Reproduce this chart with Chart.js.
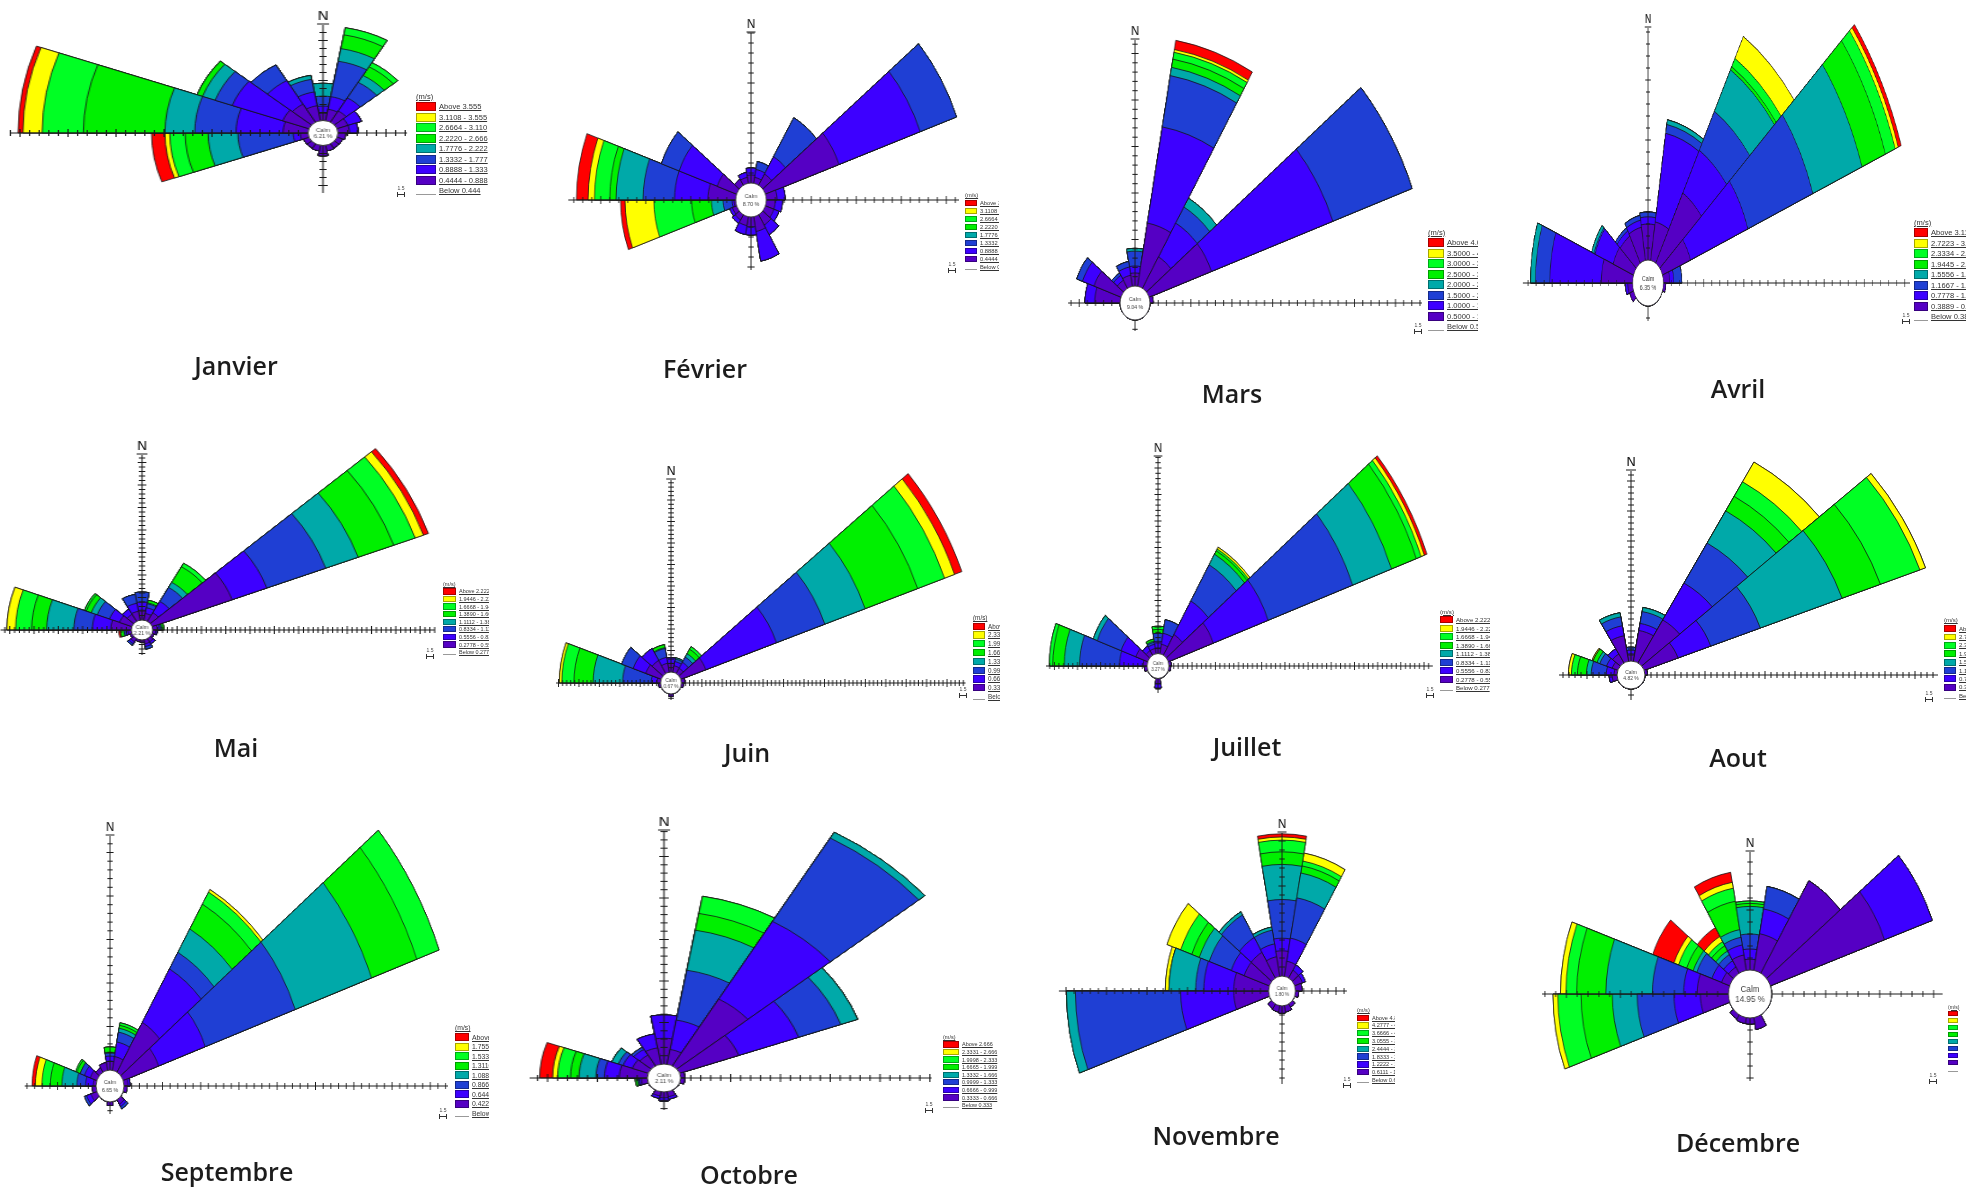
<!DOCTYPE html>
<html lang="fr">
<head>
<meta charset="UTF-8">
<title>Roses des vents mensuelles</title>
<script src="https://cdn.jsdelivr.net/npm/chart.js"></script>
<style>
  body { margin: 0; background: #fff; width: 1975px; height: 1191px; position: relative; overflow: hidden; }
  canvas.rose { position: absolute; }
  .month { position: absolute; transform: translate(-50%, -50%); font: 600 25px "Open Sans", sans-serif; color: #1c1c1c; white-space: nowrap; }
  .legend { position: absolute; overflow: hidden; font-family: "Liberation Sans", sans-serif; color: #333; }
  .legend .row { display: flex; align-items: center; white-space: nowrap; }
  .legend .sw { flex: none; margin-right: 3px; box-sizing: border-box; border: 0.5px solid rgba(0,0,0,0.35); }
  .legend .txt { text-decoration: underline; }
  .scalemark { position: absolute; width: 10px; height: 12px; font: 5px "Liberation Sans", sans-serif; color: #444; text-align: center; }
  .scalemark .br { position: absolute; left: 1px; right: 1px; bottom: 0; height: 5px; border-left: 1px solid #333; border-right: 1px solid #333; }
  .scalemark .br::after { content: ""; position: absolute; left: 0; right: 0; top: 2px; border-top: 1px solid #333; }
</style>
</head>
<body>
<script>
// 18 sectors of 20 degrees, centred on 0, 20, ... 340
const directions = ['0°', '20°', '40°', '60°', '80°', '100°', '120°', '140°', '160°',
                    '180°', '200°', '220°', '240°', '260°', '280°', '300°', '320°', '340°'];
const speedClasses = ['c1', 'c2', 'c3', 'c4', 'c5', 'c6', 'c7', 'c8'];
const classColors = ['#5500c4', '#3d00ff', '#1f3fd4', '#00a9a9', '#00f000', '#00ff24', '#ffff00', '#ff0000'];
const months = ['Janvier', 'Février', 'Mars', 'Avril', 'Mai', 'Juin', 'Juillet', 'Aout',
                'Septembre', 'Octobre', 'Novembre', 'Décembre'];

// frequency per direction, split by speed class (inner -> outer), in axis tick units
const janvier = [
  [0.9, 0.9, 1.25, 1.6], [1.45, 1.6, 4.5, 1.6, 1.75, 0.9], [1.6, 1.9, 2.25, 1.0, 1.25, 0.6],
  [1.2, 1.5], [1.2, 0.9], [0.8], [0.6], [0.6], [0.7], [1.3], [0.7], [0.6], [0.6],
  [0.8, 0.75, 5.75, 3.1, 2.4, 1.6, 0.5, 1.4], [2.6, 4.9, 4.3, 3.1, 8.5, 4.3, 2.0, 0.5],
  [2.9, 5.6, 1.9, 1.4, 0.6], [2.6, 3.4, 2.25], [1.9, 1.75, 1.6, 0.5]
];
const fevrier = [
  [0.8, 0.7], [0.6, 0.8, 0.8], [1.3, 2.0, 4.5], [8.7, 9.6, 4.3], [1.2, 0.9], [1.0, 0.8],
  [1.0, 0.6], [1.2, 1.1], [1.5, 3.0], [1.0, 0.8], [0.9, 0.9], [0.6, 0.4], [0.5, 0.3],
  [0.2, 0.2, 1.0, 1.3, 2.2, 4.2, 3.2, 0.5], [3.1, 3.7, 3.5, 3.0, 0.7, 1.7, 0.7, 1.3],
  [2.3, 4.5, 2.1], [0.7], [0.6, 0.5]
];
const mars = [
  [1.4, 0.75, 1.6, 0.3], [6.9, 10.5, 5.6, 0.9, 0.9, 0.75, 0.3, 1.0], [3.9, 4.2, 2.0, 1.1],
  [8.1, 15.8, 10.3], [0.4], [], [], [], [], [], [], [], [], [],
  [3.1, 1.2], [3.5, 1.5, 0.75], [1.0, 0.6, 0.3], [1.2, 0.9, 0.6]
];
const avril = [
  [3.0, 0.6, 0.4], [3.25, 7.5, 0.75, 0.4], [6.75, 4.1, 3.75, 4.0, 0.3, 0.8, 2.1],
  [3.7, 7.6, 8.6, 6.5, 3.1, 1.3, 0.4, 0.4], [0.8, 0.5, 1.0], [0.3], [], [], [], [], [], [],
  [0.5], [0.6, 0.3], [3.9, 6.4, 1.8, 0.6], [2.7, 2.4, 0.15, 0.3], [2.6, 0.5, 0.3], [2.8, 0.6, 0.4]
];
const mai = [
  [2.2, 1.8, 2.2], [1.5, 1.3, 0.9, 0.2, 0.6], [2.2, 2.9, 3.6, 1.3, 4.0, 0.9],
  [17.5, 7.6, 12.9, 7.1, 7.8, 4.7, 1.8, 1.1], [0.9, 0.5, 0.3, 0.2, 0.4], [0.6, 0.3], [0.4],
  [0.8, 0.5], [0.9, 0.6, 0.6], [0.5], [0.4], [0.8, 0.5, 0.4], [0.4],
  [0.7, 0.4, 0.4, 0, 0.7, 0, 0, 0.4], [4.2, 3.8, 3.8, 5.6, 3.1, 3.3, 1.8],
  [2.7, 2.2, 2.7, 1.3, 1.1, 0.4], [1.8, 1.3], [2.0, 1.8, 2.0]
];
const juin = [
  [2.0, 1.3], [1.5, 1.0, 0.6, 0.3], [1.4, 1.6, 1.4, 0.9, 1.2, 0.7],
  [6.5, 18.4, 12.6, 10.5, 13.7, 7.0, 2.6, 1.9], [0.8], [0.5], [], [], [], [0.6], [], [], [],
  [0.5], [0.9, 1.4, 7.0, 7.2, 4.7, 3.0, 0.6], [4.0, 3.3, 3.0], [3.5, 3.2], [2.1, 1.4, 2.1, 0.2, 0.7]
];
const juillet = [
  [1.0, 1.3, 1.5, 0, 0.75, 0.6], [1.8, 2.1, 2.6], [4.5, 7.3, 7.9, 2.3, 0.75, 0.4, 0.4],
  [10.3, 12.6, 19.4, 8.9, 5.7, 1.1, 0.75, 0.6], [0.5], [0.4], [], [], [], [1.0, 0.8], [], [], [],
  [0.6], [0.85, 5.1, 8.6, 3.3, 2.5, 0.75], [2.7, 3.4, 5.5, 0.9], [1.0, 1.0], [1.0, 0.8, 0.4, 0.2, 0.4]
];
const aout = [
  [1.2, 0.6, 0.5], [5.2, 1.2, 2.0, 0.7], [8.25, 7.1, 7.7, 6.2, 2.8, 2.8, 3.8],
  [6.0, 5.8, 8.8, 14.5, 6.8, 7.0, 1.0], [0.4], [], [], [], [], [], [], [], [],
  [0.8, 0.5], [0.5, 1.3, 2.5, 0.8, 1.5, 1.0, 0.5], [1.0, 1.0, 1.2, 0.5, 0.7, 0, 0.2],
  [1.7, 1.0], [4.3, 1.7, 1.5, 0.7]
];
const septembre = [
  [1.0, 0.6, 0.35, 0.1, 0.6], [1.6, 1.7, 1.15, 0.45, 0.35, 0.3], [6.6, 7.1, 2.2, 3.1, 3.3, 1.6, 0.35],
  [4.9, 6.5, 12.5, 10.6, 6.3, 3.1], [0.5, 0.3], [0.4], [], [0.6, 0.3, 0.3], [], [0.4], [], [],
  [0.8, 0.6, 0.3], [0.5], [0.35, 1.0, 1.15, 1.95, 1.5, 1.1, 0.85, 0.45],
  [0.9, 0.8, 0.6, 0, 0.45, 0.2], [0.6], [0.9]
];
const octobre = [
  [3.1, 2.8], [1.8, 3.6, 6.1, 4.9, 2.05, 2.1], [9.3, 10.8, 11.6, 0.8], [6.3, 6.4, 4.5, 1.8],
  [0.4], [0.4], [], [], [0.6, 0.3], [0.7, 0.4], [0.5, 0.3], [], [],
  [0.6, 0.2, 0.1, 0.1, 0.2], [2.8, 1.5, 0.85, 1.7, 0.85, 1.3, 0.5, 1.3],
  [1.7, 1.0, 0.5, 0.7], [1.5, 0.8, 0.3], [2.0, 1.7]
];
const novembre = [
  [2.8, 1.4, 4.3, 3.9, 1.4, 1.3, 0.35, 0.35], [1.7, 2.6, 4.55, 2.8, 0.8, 0.55, 0.9], [1.0, 0.7],
  [1.0, 0.4], [0.8], [0.4], [], [0.4], [0.7], [0.8], [0.7], [0.6], [],
  [4.3, 6.55, 13.0, 1.1], [4.3, 3.7, 1.0, 3.3, 0, 0, 0.45], [3.3, 1.7, 2.9, 1.3, 1.0, 1.45, 1.8],
  [3.3, 1.9, 2.9, 0.4], [2.2, 1.45, 1.55, 0.35]
];
const decembre = [
  [0.9, 0.85, 1.25, 2.3, 0.25, 0.2], [3.1, 2.1, 1.9], [8.9], [11.25, 4.7], [], [], [], [],
  [1.0], [0.5], [0.5], [0.4], [],
  [2.6, 2.45, 3.4, 2.3, 2.9, 2.15, 0.45], [2.9, 1.25, 2.9, 4.3, 2.7, 1.0, 0.5],
  [0.8, 0.95, 1.5, 0.35, 0.65, 0.8, 0.45, 2.1], [0.6, 0.6, 0.6, 0.35, 0.5, 0.4, 0.5, 0.85],
  [1.3, 0.85, 0.65, 0.65, 2.4, 1.1, 0.5, 0.85]
];

const calmPercent = ['6.21', '8.70', '9.04', '6.35', '2.21', '0.67', '3.27', '4.82', '6.65', '2.11', '1.80', '14.95'];
const speedFloor = [0.4444, 0.4444, 0.5, 0.3889, 0.2778, 0.3333, 0.2778, 0.3889, 0.4222, 0.3333, 0.6111, 0.5556];
const speedStep = [0.4444, 0.4444, 0.5, 0.3889, 0.2778, 0.3333, 0.2778, 0.3889, 0.2222, 0.3333, 0.6111, 0.5556];

const roses = [janvier, fevrier, mars, avril, mai, juin, juillet, aout, septembre, octobre, novembre, decembre];

// placement of each rose: centre, horizontal squeeze, px per tick, calm radius,
// axis lengths [up, right, down, left], title centre, legend box [x, y, w, h, swatch], scale mark
const layout = [
  { cx: 323, cy: 133, sx: 1.2, unit: 8, calm: 12.5, axis: [108, 70, 60, 261], title: [236, 365], legend: [416, 91, 74, 105, 20], mark: [396, 185] },
  { cx: 751, cy: 200, sx: 0.9, unit: 10, calm: 17, axis: [167, 231, 70, 203], title: [705, 368], legend: [965, 191, 34, 80, 12], mark: [947, 261] },
  { cx: 1135, cy: 303, sx: 0.88, unit: 9.3, calm: 17, axis: [263, 326, 28, 76], title: [1232, 393], legend: [1428, 227, 50, 105, 16], mark: [1413, 322] },
  { cx: 1648, cy: 283, sx: 0.67, unit: 12, calm: 23, axis: [255, 391, 38, 187], title: [1738, 388], legend: [1914, 217, 52, 105, 14], mark: [1901, 312] },
  { cx: 142, cy: 630, sx: 1.08, unit: 4.5, calm: 10, axis: [175, 271, 25, 131], title: [236, 747], legend: [443, 580, 46, 76, 13], mark: [425, 647] },
  { cx: 671, cy: 683, sx: 0.95, unit: 4.3, calm: 11, axis: [203, 310, 17, 121], title: [747, 752], legend: [973, 613, 27, 88, 12], mark: [958, 686] },
  { cx: 1158, cy: 666, sx: 0.875, unit: 5.3, calm: 12.5, axis: [209, 314, 27, 128], title: [1247, 746], legend: [1440, 607, 50, 85, 13], mark: [1425, 686] },
  { cx: 1631, cy: 675, sx: 1.0, unit: 6, calm: 14, axis: [204, 307, 25, 72], title: [1738, 757], legend: [1944, 616, 22, 84, 12], mark: [1924, 690] },
  { cx: 110, cy: 1086, sx: 0.88, unit: 8.7, calm: 16, axis: [250, 384, 28, 97], title: [227, 1171], legend: [455, 1023, 34, 95, 14], mark: [438, 1107] },
  { cx: 664, cy: 1078, sx: 1.2, unit: 8.3, calm: 14, axis: [247, 223, 32, 112], title: [749, 1174], legend: [943, 1033, 57, 76, 16], mark: [924, 1101] },
  { cx: 1282, cy: 991, sx: 0.9, unit: 9, calm: 15, axis: [158, 72, 93, 248], title: [1216, 1135], legend: [1357, 1006, 38, 78, 12], mark: [1342, 1076] },
  { cx: 1750, cy: 994, sx: 0.9, unit: 12, calm: 24, axis: [142, 214, 87, 231], title: [1738, 1142], legend: [1948, 1003, 12, 70, 10], mark: [1928, 1072] }
];

// cross-shaped axes with tick marks, N marker and the calm disc
const roseFrame = {
  id: 'roseFrame',
  afterDatasetsDraw(chart, args, opts) {
    const r = chart.scales.r;
    const ctx = chart.ctx;
    const cx = r.xCenter, cy = r.yCenter;
    const dirs = [[0, -1], [1, 0], [0, 1], [-1, 0]];
    ctx.save();
    ctx.strokeStyle = '#1a1a1a';
    ctx.lineWidth = 1;
    opts.axis.forEach((len, k) => {
      const [ux, uy] = dirs[k];
      ctx.beginPath();
      ctx.moveTo(cx, cy);
      ctx.lineTo(cx + ux * len, cy + uy * len);
      ctx.stroke();
      ctx.beginPath();
      for (let v = 1; ; v++) {
        const d = r.getDistanceFromCenterForValue(v);
        if (d > len) break;
        const px = cx + ux * d, py = cy + uy * d;
        const t = v % 5 === 0 ? 4 : 3;
        ctx.moveTo(px - uy * t, py + ux * t);
        ctx.lineTo(px + uy * t, py - ux * t);
      }
      ctx.stroke();
    });
    // north marker
    const top = cy - opts.axis[0];
    ctx.beginPath();
    ctx.moveTo(cx - 5, top - 1);
    ctx.lineTo(cx + 5, top - 1);
    ctx.stroke();
    ctx.fillStyle = '#1a1a1a';
    ctx.font = '13px "DejaVu Sans", sans-serif';
    ctx.textAlign = 'center';
    ctx.textBaseline = 'bottom';
    ctx.fillText('N', cx, top - 2);

    // calm disc
    const rc = r.getDistanceFromCenterForValue(0);
    ctx.beginPath();
    ctx.arc(cx, cy, rc, 0, Math.PI * 2);
    ctx.fillStyle = '#fff';
    ctx.fill();
    ctx.lineWidth = 1;
    ctx.strokeStyle = '#333';
    ctx.stroke();
    const fs = Math.max(5, Math.round(rc * 0.36));
    ctx.font = fs + 'px "Liberation Sans", sans-serif';
    ctx.fillStyle = '#444';
    ctx.textBaseline = 'middle';
    ctx.fillText('Calm', cx, cy - fs * 0.55);
    ctx.fillText(opts.calmText, cx, cy + fs * 0.65);
    ctx.restore();
  }
};

function legendLabels(floor, step) {
  const cut = v => (Math.floor(v * 1000 + 1e-6) / 1000).toFixed(3);
  const rows = [];
  for (let c = 7; c >= 0; c--) {
    const lo = floor + step * c;
    rows.push(c === 7 ? 'Above  ' + cut(lo) : lo.toFixed(4) + ' - ' + cut(lo + step));
  }
  rows.push('Below  ' + cut(floor));
  return rows;
}

function buildLegend(i) {
  const [x, y, w, h, sw] = layout[i].legend;
  const rowH = h / 10;
  const box = document.createElement('div');
  box.className = 'legend';
  Object.assign(box.style, { left: x + 'px', top: y + 'px', width: w + 'px', height: h + 'px', fontSize: (rowH * 0.72) + 'px' });
  const head = document.createElement('div');
  head.className = 'row';
  head.style.height = rowH + 'px';
  head.innerHTML = '<span class="txt">(m/s)</span>';
  box.appendChild(head);
  legendLabels(speedFloor[i], speedStep[i]).forEach((label, k) => {
    const row = document.createElement('div');
    row.className = 'row';
    row.style.height = rowH + 'px';
    const swatch = document.createElement('span');
    swatch.className = 'sw';
    swatch.style.width = sw + 'px';
    swatch.style.height = (rowH * 0.82) + 'px';
    if (k < 8) {
      swatch.style.background = classColors[7 - k];
    } else {
      swatch.style.border = 'none';
      swatch.style.borderBottom = '1px solid #999';
    }
    const txt = document.createElement('span');
    txt.className = 'txt';
    txt.textContent = label;
    row.appendChild(swatch);
    row.appendChild(txt);
    box.appendChild(row);
  });
  document.body.appendChild(box);

  // small speed-scale bracket next to the legend
  const [mx, my] = layout[i].mark;
  const mark = document.createElement('div');
  mark.className = 'scalemark';
  mark.style.left = mx + 'px';
  mark.style.top = my + 'px';
  mark.innerHTML = '1.5<div class="br"></div>';
  document.body.appendChild(mark);
}

roses.forEach((rows, i) => {
  const L = layout[i];
  const totals = rows.map(r => r.reduce((a, b) => a + b, 0));
  const reach = Math.max(L.calm + Math.max(...totals) * L.unit, ...L.axis) + 18;
  const half = Math.ceil(reach);
  const size = half * 2;
  const rMin = -L.calm / L.unit;
  const rMax = rMin + half / L.unit;

  const canvas = document.createElement('canvas');
  canvas.className = 'rose';
  canvas.width = size;
  canvas.height = size;
  Object.assign(canvas.style, {
    left: (L.cx - half) + 'px', top: (L.cy - half) + 'px',
    width: size + 'px', height: size + 'px', transform: 'scaleX(' + L.sx + ')'
  });
  document.body.appendChild(canvas);

  // stacked speed classes: each dataset holds the running total up to its class
  const datasets = speedClasses.map((name, c) => ({
    label: name,
    data: rows.map(r => r.slice(0, c + 1).reduce((a, b) => a + b, 0)),
    backgroundColor: classColors[c],
    borderColor: '#141414',
    borderWidth: 0.8
  }));

  new Chart(canvas, {
    type: 'polarArea',
    data: { labels: directions, datasets },
    options: {
      responsive: false,
      maintainAspectRatio: false,
      devicePixelRatio: 1,
      animation: false,
      events: [],
      layout: { padding: 0 },
      scales: {
        r: {
          min: rMin,
          max: rMax,
          startAngle: -10,
          grid: { display: false },
          angleLines: { display: false },
          ticks: { display: false },
          pointLabels: { display: false }
        }
      },
      plugins: {
        legend: { display: false },
        tooltip: { enabled: false },
        roseFrame: { axis: L.axis, calmText: calmPercent[i] + ' %' }
      }
    },
    plugins: [roseFrame]
  });

  buildLegend(i);

  const t = document.createElement('div');
  t.className = 'month';
  t.style.left = L.title[0] + 'px';
  t.style.top = L.title[1] + 'px';
  t.textContent = months[i];
  document.body.appendChild(t);
});
</script>
</body>
</html>
